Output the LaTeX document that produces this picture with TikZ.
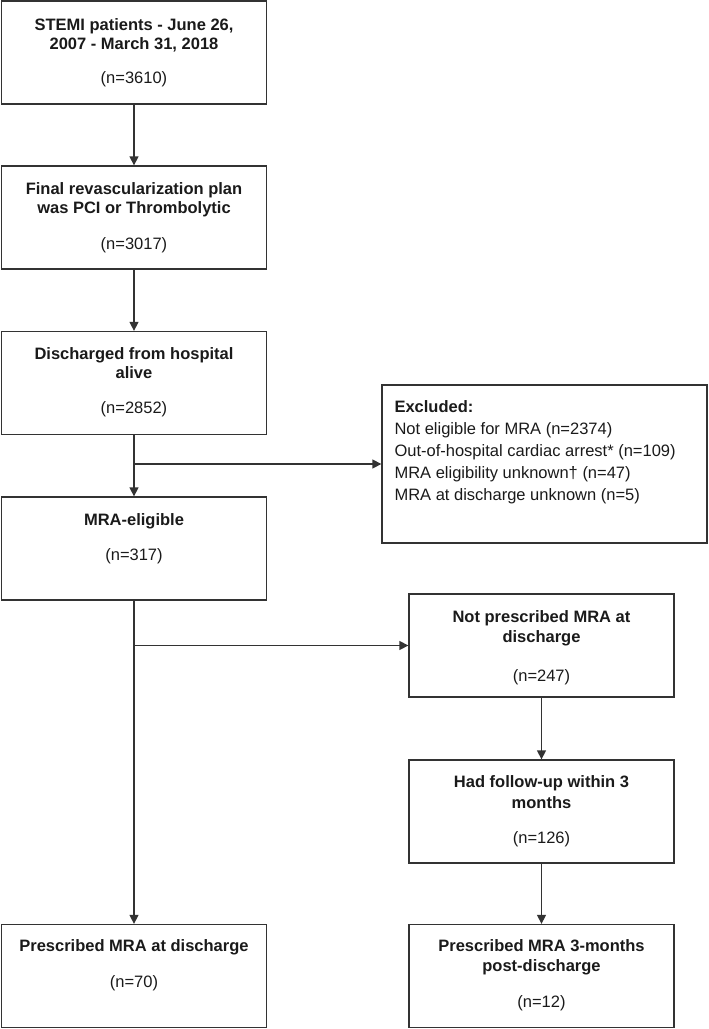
\documentclass[tikz,border=0pt]{standalone}
\usepackage{fontspec}
\setmainfont{Liberation Sans}
\usetikzlibrary{arrows.meta,calc}
\definecolor{linec}{HTML}{333333}
\definecolor{txt}{HTML}{1A1A1A}
\begin{document}
\begin{tikzpicture}[x=1pt,y=-1pt,
  box/.style={draw=linec, line width=1.3pt, minimum width=265pt, minimum height=103pt, inner sep=0pt},
  exbox/.style={draw=linec, line width=1.3pt, minimum width=325pt, minimum height=158pt, inner sep=0pt},
  ttl/.style={anchor=base, font=\fontsize{16.5}{19}\selectfont\bfseries, text=txt, inner sep=0pt},
  cnt/.style={anchor=base, font=\fontsize{16.5}{19}\selectfont, text=txt, inner sep=0pt},
  exl/.style={anchor=base west, font=\fontsize{16.5}{19}\selectfont, text=txt, inner sep=0pt},
  arr/.style={draw=linec, line width=1.3pt, -{Triangle[length=9pt,width=9pt]}}]
\useasboundingbox (0,0) rectangle (709,1029);
% boxes
\node[box] (b1) at (134,52.5) {};
\node[box] (b2) at (134,217.5) {};
\node[box] (b3) at (134,383) {};
\node[box] (b4) at (134,548.5) {};
\node[box] (b5) at (134,976) {};
\node[exbox] (ex) at (544.5,464) {};
\node[box] (np) at (541.5,645.5) {};
\node[box] (fu) at (541.5,811.5) {};
\node[box] (p3) at (541.5,976) {};
% texts
\node[ttl] (t1a) at ($(b1.north)+(0,30.5)$) {STEMI patients - June 26,};
\node[ttl] (t1b) at ($(b1.north)+(0,49.5)$) {2007 - March 31, 2018};
\node[cnt] (t1n) at ($(b1.north)+(0,83)$) {(n=3610)};
\node[ttl] (t2a) at ($(b2.north)+(0,29.5)$) {Final revascularization plan};
\node[ttl] (t2b) at ($(b2.north)+(0,48.5)$) {was PCI or Thrombolytic};
\node[cnt] (t2n) at ($(b2.north)+(0,84)$) {(n=3017)};
\node[ttl] (t3a) at ($(b3.north)+(0,28.5)$) {Discharged from hospital};
\node[ttl] (t3b) at ($(b3.north)+(0,47.5)$) {alive};
\node[cnt] (t3n) at ($(b3.north)+(0,83)$) {(n=2852)};
\node[ttl] (t4a) at ($(b4.north)+(0,29)$) {MRA-eligible};
\node[cnt] (t4n) at ($(b4.north)+(0,64)$) {(n=317)};
\node[ttl] (t5a) at ($(b5.north)+(0,28)$) {Prescribed MRA at discharge};
\node[cnt] (t5n) at ($(b5.north)+(0,64)$) {(n=70)};
\node[ttl] (tna) at ($(np.north)+(0,29)$) {Not prescribed MRA at};
\node[ttl] (tnb) at ($(np.north)+(0,49)$) {discharge};
\node[cnt] (tnn) at ($(np.north)+(0,88)$) {(n=247)};
\node[ttl] (tfa) at ($(fu.north)+(0,28.5)$) {Had follow-up within 3};
\node[ttl] (tfb) at ($(fu.north)+(0,49)$) {months};
\node[cnt] (tfn) at ($(fu.north)+(0,84)$) {(n=126)};
\node[ttl] (tpa) at ($(p3.north)+(0,28)$) {Prescribed MRA 3-months};
\node[ttl] (tpb) at ($(p3.north)+(0,48)$) {post-discharge};
\node[cnt] (tpn) at ($(p3.north)+(0,84)$) {(n=12)};
\node[exl, font=\fontsize{16.5}{19}\selectfont\bfseries] (e0) at ($(ex.north west)+(13,28)$) {Excluded:};
\node[exl] (e1) at ($(ex.north west)+(13,50.5)$) {Not eligible for MRA (n=2374)};
\node[exl] (e2) at ($(ex.north west)+(13,72.5)$) {Out-of-hospital cardiac arrest* (n=109)};
\node[exl] (e3) at ($(ex.north west)+(13,94.5)$) {MRA eligibility unknown† (n=47)};
\node[exl] (e4) at ($(ex.north west)+(13,116.5)$) {MRA at discharge unknown (n=5)};
% connectors
\draw[arr] (b1) -- (b2);
\draw[arr] (b2) -- (b3);
\draw[arr] (b3) -- (b4);
\coordinate (j1) at (b3.south |- ex.west);
\draw[arr] (j1) -- (ex.west);
\draw[arr] (b4) -- (b5);
\coordinate (j2) at (b4.south |- np.west);
\draw[arr] (j2) -- (np.west);
\draw[arr] (np) -- (fu);
\draw[arr] (fu) -- (p3);
\end{tikzpicture}
\end{document}
